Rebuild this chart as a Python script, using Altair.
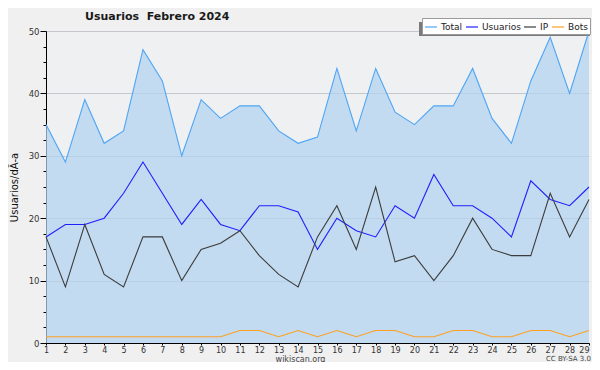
import altair as alt
import pandas as pd

# ---- data ----
days = list(range(1, 30))
total = [35, 29, 39, 32, 34, 47, 42, 30, 39, 36, 38, 38, 34, 32, 33, 44, 34, 44, 37, 35,
         38, 38, 44, 36, 32, 42, 49, 40, 50]
usuarios = [17, 19, 19, 20, 24, 29, 24, 19, 23, 19, 18, 22, 22, 21, 15, 20, 18, 17, 22, 20,
            27, 22, 22, 20, 17, 26, 23, 22, 25]
ip = [17, 9, 19, 11, 9, 17, 17, 10, 15, 16, 18, 14, 11, 9, 17, 22, 15, 25, 13, 14,
      10, 14, 20, 15, 14, 14, 24, 17, 23]
bots = [1, 1, 1, 1, 1, 1, 1, 1, 1, 1, 2, 2, 1, 2, 1, 2, 1, 2, 2, 1,
        1, 2, 2, 1, 1, 2, 2, 1, 2]
series_names = ["Total", "Usuarios", "IP", "Bots"]
series_colors = ["#4ea5f5", "#2020ff", "#3c3c3c", "#ffa020"]
y_ticks = [i * 2.5 for i in range(21)]
x_ticks = days
title_text = "Usuarios\u00a0 Febrero 2024"
y_title = "Usuarios/d\u00c3-a"
credit_text = "CC BY-SA 3.0"
source_text = "wikiscan.org"

# ---- tables ----
wide = pd.DataFrame({"dia": days, "Total": total, "Usuarios": usuarios, "IP": ip, "Bots": bots})
long = wide.melt(id_vars="dia", value_vars=series_names, var_name="serie", value_name="valor")
long["orden"] = long["serie"].map({n: i for i, n in enumerate(series_names)})

FONT = "DejaVu Sans"
major = "datum.value % 10 == 0"
last_day = f"datum.value == {days[-1]}"

x_enc = alt.X(
    "dia:Q",
    scale=alt.Scale(domain=[1, 29], nice=False, zero=False),
    axis=alt.Axis(
        values=x_ticks, format="d", grid=False, tickSize=2, labelPadding=1,
        labelFontSize=8, labelColor="#333333", labelFont=FONT,
        labelAlign={"condition": {"test": last_day, "value": "right"}, "value": "center"},
        domainColor="#000000", tickColor="#000000", labelFlush=False,
        title=source_text, titleFontSize=8, titleFontWeight="normal",
        titleColor="#444444", titleFont=FONT, titleX=254, titleY=18,
        titleAlign="center", titleBaseline="alphabetic",
    ),
)

y_axis = alt.Axis(
    values=y_ticks,
    labelExpr=f"{major} ? datum.label : ''",
    grid=True,
    gridColor="#c4c8cc",
    gridOpacity={"condition": {"test": major, "value": 1}, "value": 0},
    tickSize={"condition": {"test": major, "value": 6}, "value": 3},
    tickColor="#000000", domainColor="#000000",
    labelPadding=1, labelFontSize=8.5, labelColor="#333333", labelFont=FONT,
    title=y_title, titleFontSize=10, titleFontWeight="normal",
    titleColor="#111111", titleFont=FONT, titleX=-29, titleY=156, titleAngle=-90,
    titleBaseline="alphabetic", titleAlign="center",
)

y_scale = alt.Scale(domain=[0, 50], nice=False)

area = alt.Chart(wide).mark_area(color="#b2d3ef", opacity=0.72).encode(
    x=x_enc,
    y=alt.Y("Total:Q", scale=y_scale, axis=y_axis),
)

# legend drop shadow (decoration)
shadow = alt.Chart(pd.DataFrame({"s": [0]})).mark_rect(color="#7a7a7a").encode(
    x=alt.value(373), x2=alt.value(544), y=alt.value(-9), y2=alt.value(5)
)

lines = alt.Chart(long).mark_line(strokeWidth=1.1).encode(
    x=x_enc,
    y=alt.Y("valor:Q", scale=y_scale, axis=y_axis),
    color=alt.Color(
        "serie:N",
        scale=alt.Scale(domain=series_names, range=series_colors),
        sort=series_names,
        legend=alt.Legend(
            title=None, orient="none", legendX=376, legendY=-13,
            direction="horizontal", symbolType="stroke", symbolSize=144,
            symbolStrokeWidth=1.2, labelFontSize=9, labelFont=FONT,
            labelColor="#222222", labelOffset=3, columnPadding=0, padding=2,
            fillColor="#ffffff", strokeColor="#9a9a9a",
        ),
    ),
    order=alt.Order("orden:Q", sort="descending"),
)

title = alt.Chart(pd.DataFrame({"t": [title_text]})).mark_text(
    align="left", baseline="middle", fontSize=11, fontWeight="bold", font=FONT, color="#1a1a1a"
).encode(text="t:N", x=alt.value(39), y=alt.value(-14))

credit = alt.Chart(pd.DataFrame({"t": [credit_text]})).mark_text(
    align="right", baseline="alphabetic", fontSize=7, font=FONT, color="#444444"
).encode(text="t:N", x=alt.value(545), y=alt.value(330))

chart = (
    alt.layer(area, shadow, lines, title, credit)
    .properties(
        width=543, height=312,
        autosize=alt.AutoSizeParams(type="none"),
        padding={"left": 38, "top": 23, "right": 3, "bottom": 19},
        background="#f0f0f0",
    )
    .configure_view(fill="#eef0f2", stroke=None)
)

chart.save("out.html", embed_options={"renderer": "svg", "actions": False})
